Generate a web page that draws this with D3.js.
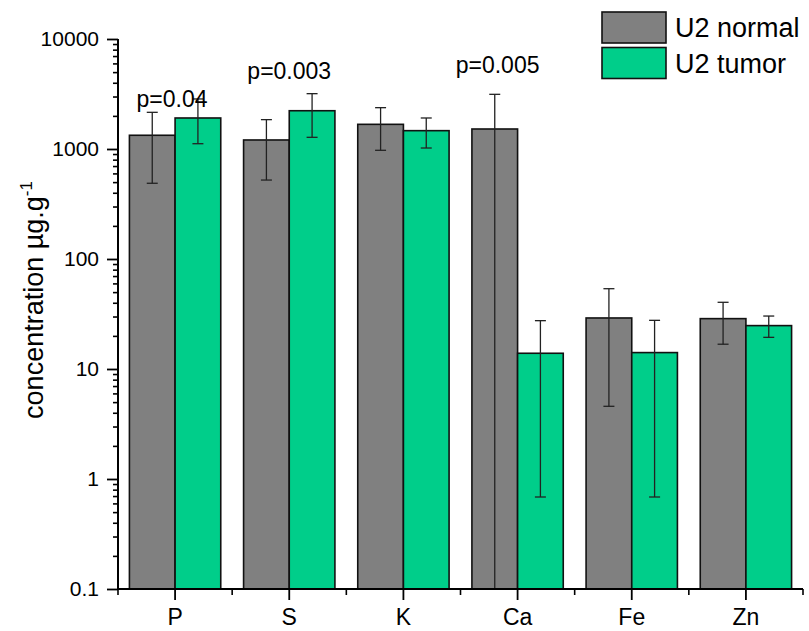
<!DOCTYPE html>
<html>
<head>
<meta charset="utf-8">
<script src="https://cdn.jsdelivr.net/npm/d3@7"></script>
<style>
  body { margin: 0; background: #fff; }
  text { font-family: "Liberation Sans", Arial, sans-serif; fill: #000; }
</style>
</head>
<body>
<div id="chart"></div>
<script>
// element categories and the two sample groups
var elements = ["P", "S", "K", "Ca", "Fe", "Zn"];
var groups = ["U2 normal", "U2 tumor"];

// mean concentrations (µg/g)
var normalMean = [1333, 1208, 1676, 1520, 29.1, 28.7];
var tumorMean  = [1914, 2228, 1468, 13.9, 14.1, 24.8];

// error bar ends (upper / lower); 0 = runs below the axis
var normalHigh = [2155, 1849, 2375, 3141, 53.7, 40.4];
var normalLow  = [488, 522, 973, 0, 4.58, 16.8];
var tumorHigh  = [2850, 3184, 1914, 27.5, 27.7, 30.3];
var tumorLow   = [1117, 1277, 1021, 0.686, 0.686, 19.4];

// p-value annotations
var pElements = ["P", "S", "Ca"];
var pTexts = ["p=0.04", "p=0.003", "p=0.005"];
var pLevels = [2430, 4330, 4880];
var pShift = [-3, 0, -20];

var yTicks = [0.1, 1, 10, 100, 1000, 10000];
var yTickLabels = ["0.1", "1", "10", "100", "1000", "10000"];

var colors = ["#808080", "#00ce8a"];

var W = 809, H = 631;
var margin = {top: 39, right: 6, bottom: 42, left: 118};
var width = W - margin.left - margin.right,
    height = H - margin.top - margin.bottom;

var svg = d3.select("#chart")
  .append("svg")
  .attr("width", W)
  .attr("height", H)
  .append("g")
  .attr("transform", "translate(" + margin.left + "," + margin.top + ")");

var x = d3.scaleBand()
  .domain(elements)
  .range([0, width])
  .paddingInner(0.2)
  .paddingOuter(0.1);

var x1 = d3.scaleBand()
  .domain(groups)
  .range([0, x.bandwidth()]);

var y = d3.scaleLog()
  .domain([0.1, 10000])
  .range([height, 0])
  .clamp(true);

var yv = function(v) { return v > 0 ? y(v) : height; };

// table built from the arrays
var rows = [];
elements.forEach(function(el, i) {
  rows.push({el: el, g: groups[0], mean: normalMean[i], hi: normalHigh[i], lo: normalLow[i], c: colors[0]});
  rows.push({el: el, g: groups[1], mean: tumorMean[i], hi: tumorHigh[i], lo: tumorLow[i], c: colors[1]});
});

// bars
svg.selectAll(".bar")
  .data(rows)
  .enter()
  .append("rect")
  .attr("x", function(d) { return x(d.el) + x1(d.g); })
  .attr("y", function(d) { return y(d.mean); })
  .attr("width", x1.bandwidth())
  .attr("height", function(d) { return height - y(d.mean); })
  .attr("fill", function(d) { return d.c; })
  .attr("stroke", "#111")
  .attr("stroke-width", 1.6);

// error bars
var capW = 11;
rows.forEach(function(d) {
  var cx = x(d.el) + x1(d.g) + x1.bandwidth() / 2;
  svg.append("line")
    .attr("x1", cx).attr("x2", cx)
    .attr("y1", yv(d.lo)).attr("y2", y(d.hi))
    .attr("stroke", "#222").attr("stroke-width", 1.3);
  svg.append("line")
    .attr("x1", cx - capW / 2).attr("x2", cx + capW / 2)
    .attr("y1", y(d.hi)).attr("y2", y(d.hi))
    .attr("stroke", "#222").attr("stroke-width", 1.3);
  if (d.lo > 0) {
    svg.append("line")
      .attr("x1", cx - capW / 2).attr("x2", cx + capW / 2)
      .attr("y1", y(d.lo)).attr("y2", y(d.lo))
      .attr("stroke", "#222").attr("stroke-width", 1.3);
  }
});

// p-value labels
pElements.forEach(function(el, i) {
  svg.append("text")
    .attr("x", x(el) + x.bandwidth() / 2 + pShift[i])
    .attr("y", y(pLevels[i]))
    .attr("text-anchor", "middle")
    .style("font-size", "23px")
    .text(pTexts[i]);
});

// y axis with minor ticks
var yMinor = [];
for (var e = -1; e < 4; e++) {
  for (var m = 2; m <= 9; m++) yMinor.push(m * Math.pow(10, e));
}
svg.append("g")
  .call(d3.axisLeft(y).tickValues(yMinor).tickSize(5).tickFormat(""))
  .call(function(g) { g.select(".domain").remove(); })
  .selectAll("line").attr("stroke-width", 1.6);

var yAxis = svg.append("g")
  .call(d3.axisLeft(y)
    .tickValues(yTicks)
    .tickSize(11)
    .tickPadding(8)
    .tickFormat(function(d, i) { return yTickLabels[i]; }));
yAxis.select(".domain").attr("stroke-width", 2).attr("d", "M0," + height + "V0");
yAxis.selectAll("line").attr("stroke-width", 1.8);
yAxis.selectAll("text").style("font-size", "21px").attr("font-family", null);

// x axis: major ticks at centres, minor ticks at group boundaries
var xAxis = svg.append("g")
  .attr("transform", "translate(0," + height + ")")
  .call(d3.axisBottom(x).tickSize(11).tickPadding(9).tickSizeOuter(0));
xAxis.select(".domain").attr("stroke-width", 2).attr("d", "M0,0H" + width);
xAxis.selectAll("line").attr("stroke-width", 1.8);
xAxis.selectAll("text").style("font-size", "23px").attr("font-family", null);

var bounds = elements.map(function(el) { return x(el) - x.step() * x.paddingOuter(); });
bounds.push(width);
xAxis.selectAll(".minor")
  .data(bounds)
  .enter()
  .append("line")
  .attr("x1", function(d) { return d; })
  .attr("x2", function(d) { return d; })
  .attr("y1", 0).attr("y2", 6)
  .attr("stroke", "#000").attr("stroke-width", 1.6);

// y axis title
var yTitle = svg.append("text")
  .attr("transform", "translate(" + (43 - margin.left) + "," + (300 - margin.top) + ") rotate(-90)")
  .attr("text-anchor", "middle")
  .style("font-size", "27px");
yTitle.append("tspan").text("concentration µg.g");
yTitle.append("tspan")
  .attr("dy", -11)
  .style("font-size", "17px")
  .text("-1");

// legend
var legend = svg.append("g")
  .attr("transform", "translate(" + (602 - margin.left) + "," + (12 - margin.top) + ")");
groups.forEach(function(g, i) {
  legend.append("rect")
    .attr("x", 0).attr("y", i * 35.5)
    .attr("width", 64).attr("height", 31)
    .attr("fill", colors[i])
    .attr("stroke", "#111").attr("stroke-width", 1.6);
  legend.append("text")
    .attr("x", 73).attr("y", i * 35.5 + 25)
    .style("font-size", "27px")
    .text(g);
});
</script>
</body>
</html>
